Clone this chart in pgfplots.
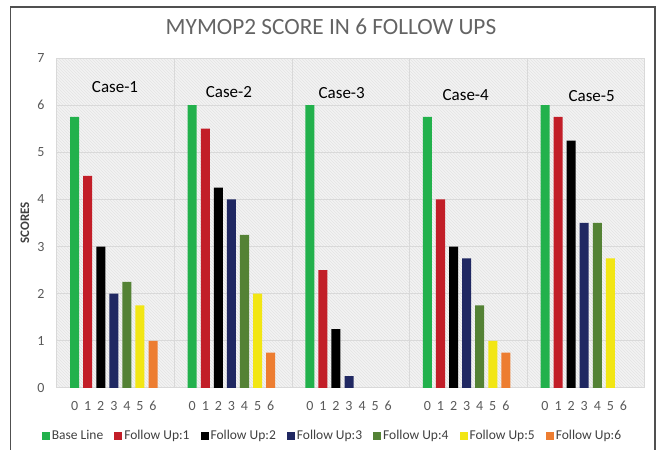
\documentclass[border=0pt]{standalone}
\usepackage{pgfplots}
\pgfplotsset{compat=1.18}
\usepackage{fontspec}
\setmainfont{Carlito}
\usetikzlibrary{patterns}
\definecolor{cBL}{RGB}{34,177,76}
\definecolor{cF1}{RGB}{194,30,40}
\definecolor{cF2}{RGB}{0,0,0}
\definecolor{cF3}{RGB}{32,40,98}
\definecolor{cF4}{RGB}{84,130,53}
\definecolor{cF5}{RGB}{242,230,20}
\definecolor{cF6}{RGB}{237,125,49}
\definecolor{framec}{RGB}{80,80,80}
\definecolor{titlegray}{RGB}{100,100,100}
\definecolor{tickgray}{RGB}{89,89,89}
\definecolor{legendtext}{RGB}{64,64,64}
\definecolor{gridgray}{RGB}{217,217,217}
\definecolor{bggray}{RGB}{243,243,243}
\definecolor{hatch}{RGB}{228,228,228}
\pgfplotsset{
  mybar/.style={ybar, bar width=0.69, bar shift=0pt, draw=none, fill=#1,
    legend image code/.code={\fill[#1] (0pt,-4pt) rectangle (8pt,4pt);}},
}
\begin{document}
\begin{tikzpicture}
\useasboundingbox (0,0) rectangle (657pt,450pt);
\draw[line width=1.5pt, draw=framec] (10.5pt,-2pt) -- (10.5pt,443pt) -- (655pt,443pt) -- (655pt,-2pt);
\node[font=\fontsize{23.3}{27}\selectfont, text=titlegray, anchor=center] at (331pt,423pt) {MYMOP2 SCORE IN 6 FOLLOW UPS};
\begin{axis}[
  at={(57pt,62pt)}, anchor=south west, scale only axis,
  width=588pt, height=330pt,
  xmin=0, xmax=45, ymin=0, ymax=7,
  axis line style={draw=none},
  major tick length=0pt,
  ytick={0,1,2,3,4,5,6,7},
  ymajorgrids,
  grid style={draw=gridgray, line width=1pt},
  axis background/.style={preaction={fill=bggray}, pattern=north west lines, pattern color=hatch},
  xtick={1.35,2.35,3.35,4.35,5.35,6.35,7.35,
         10.35,11.35,12.35,13.35,14.35,15.35,16.35,
         19.35,20.35,21.35,22.35,23.35,24.35,25.35,
         28.35,29.35,30.35,31.35,32.35,33.35,34.35,
         37.35,38.35,39.35,40.35,41.35,42.35,43.35},
  xticklabels={0,1,2,3,4,5,6,0,1,2,3,4,5,6,0,1,2,3,4,5,6,0,1,2,3,4,5,6,0,1,2,3,4,5,6},
  extra x ticks={0,9,18,27,36,45},
  extra x tick labels={},
  extra x tick style={grid=major},
  /pgf/number format/assume math mode=true,
  tick label style={font=\fontsize{14}{16}\selectfont, text=tickgray},
  xticklabel style={yshift=-10pt},
  yticklabel style={xshift=-9pt},
  ylabel={SCORES},
  ylabel style={at={(axis description cs:-0.0544,0.5)}, anchor=center, font=\bfseries\fontsize{13}{15}\selectfont, text=legendtext},
  legend columns=7,
  legend style={at={(0.4685,-0.1455)}, anchor=center, draw=none, fill=none,
    font=\fontsize{13.5}{15}\selectfont\color{legendtext},
    /tikz/every even column/.append style={column sep=9pt},
    /tikz/every odd column/.append style={column sep=0pt}},
  clip=false,
]
\addplot[mybar=cBL] coordinates {(1.35,5.75) (10.35,6) (19.35,6) (28.35,5.75) (37.35,6)};
\addlegendentry{Base Line}
\addplot[mybar=cF1] coordinates {(2.35,4.5) (11.35,5.5) (20.35,2.5) (29.35,4) (38.35,5.75)};
\addlegendentry{Follow Up:1}
\addplot[mybar=cF2] coordinates {(3.35,3) (12.35,4.25) (21.35,1.25) (30.35,3) (39.35,5.25)};
\addlegendentry{Follow Up:2}
\addplot[mybar=cF3] coordinates {(4.35,2) (13.35,4) (22.35,0.25) (31.35,2.75) (40.35,3.5)};
\addlegendentry{Follow Up:3}
\addplot[mybar=cF4] coordinates {(5.35,2.25) (14.35,3.25) (32.35,1.75) (41.35,3.5)};
\addlegendentry{Follow Up:4}
\addplot[mybar=cF5] coordinates {(6.35,1.75) (15.35,2) (33.35,1) (42.35,2.75)};
\addlegendentry{Follow Up:5}
\addplot[mybar=cF6] coordinates {(7.35,1) (16.35,0.75) (34.35,0.75)};
\addlegendentry{Follow Up:6}
\node[font=\fontsize{17}{20}\selectfont, anchor=center] at (axis cs:4.44,6.39) {Case-1};
\node[font=\fontsize{17}{20}\selectfont, anchor=center] at (axis cs:13.16,6.28) {Case-2};
\node[font=\fontsize{17}{20}\selectfont, anchor=center] at (axis cs:21.79,6.26) {Case-3};
\node[font=\fontsize{17}{20}\selectfont, anchor=center] at (axis cs:31.28,6.22) {Case-4};
\node[font=\fontsize{17}{20}\selectfont, anchor=center] at (axis cs:40.92,6.20) {Case-5};
\end{axis}
\end{tikzpicture}
\end{document}
